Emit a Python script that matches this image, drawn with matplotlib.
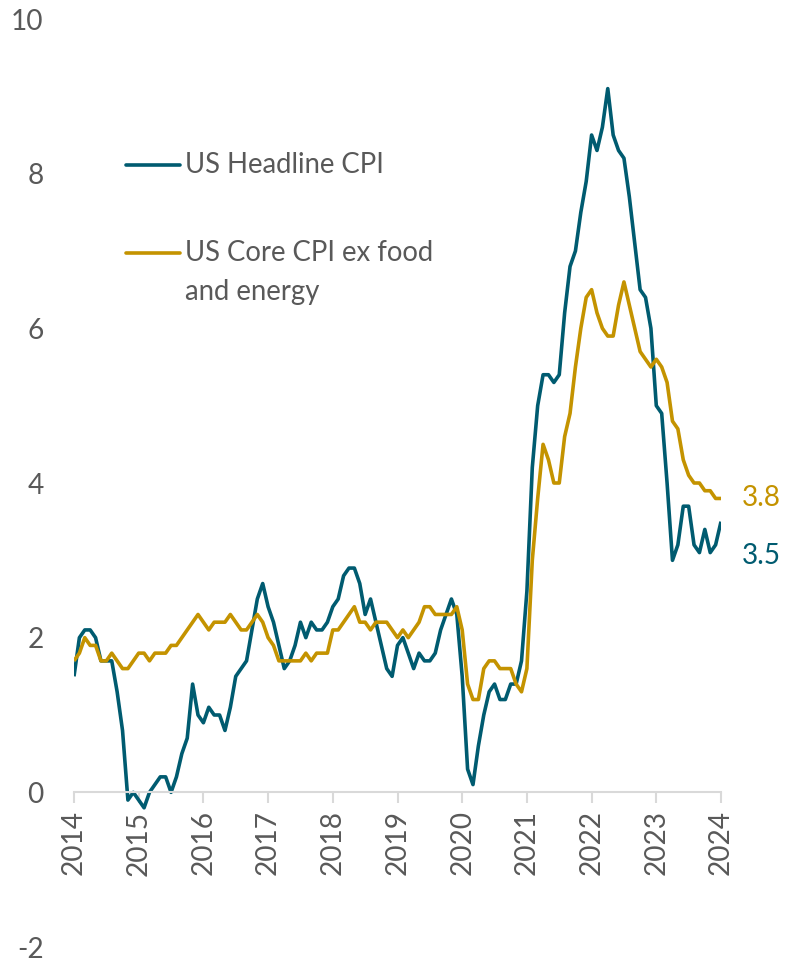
import matplotlib
matplotlib.use("Agg")
import matplotlib.pyplot as plt
from matplotlib.lines import Line2D

# Monthly YoY %, Mar 2014 - Mar 2024
headline = [1.5, 2.0, 2.1, 2.1, 2.0, 1.7, 1.7, 1.7, 1.3, 0.8,
            -0.1, 0.0, -0.1, -0.2, 0.0, 0.1, 0.2, 0.2, 0.0, 0.2, 0.5, 0.7,
            1.4, 1.0, 0.9, 1.1, 1.0, 1.0, 0.8, 1.1, 1.5, 1.6, 1.7, 2.1,
            2.5, 2.7, 2.4, 2.2, 1.9, 1.6, 1.7, 1.9, 2.2, 2.0, 2.2, 2.1,
            2.1, 2.2, 2.4, 2.5, 2.8, 2.9, 2.9, 2.7, 2.3, 2.5, 2.2, 1.9,
            1.6, 1.5, 1.9, 2.0, 1.8, 1.6, 1.8, 1.7, 1.7, 1.8, 2.1, 2.3,
            2.5, 2.3, 1.5, 0.3, 0.1, 0.6, 1.0, 1.3, 1.4, 1.2, 1.2, 1.4,
            1.4, 1.7, 2.6, 4.2, 5.0, 5.4, 5.4, 5.3, 5.4, 6.2, 6.8, 7.0,
            7.5, 7.9, 8.5, 8.3, 8.6, 9.1, 8.5, 8.3, 8.2, 7.7, 7.1, 6.5,
            6.4, 6.0, 5.0, 4.9, 4.0, 3.0, 3.2, 3.7, 3.7, 3.2, 3.1, 3.4,
            3.1, 3.2, 3.5]
core = [1.7, 1.8, 2.0, 1.9, 1.9, 1.7, 1.7, 1.8, 1.7, 1.6,
        1.6, 1.7, 1.8, 1.8, 1.7, 1.8, 1.8, 1.8, 1.9, 1.9, 2.0, 2.1,
        2.2, 2.3, 2.2, 2.1, 2.2, 2.2, 2.2, 2.3, 2.2, 2.1, 2.1, 2.2,
        2.3, 2.2, 2.0, 1.9, 1.7, 1.7, 1.7, 1.7, 1.7, 1.8, 1.7, 1.8,
        1.8, 1.8, 2.1, 2.1, 2.2, 2.3, 2.4, 2.2, 2.2, 2.1, 2.2, 2.2,
        2.2, 2.1, 2.0, 2.1, 2.0, 2.1, 2.2, 2.4, 2.4, 2.3, 2.3, 2.3,
        2.3, 2.4, 2.1, 1.4, 1.2, 1.2, 1.6, 1.7, 1.7, 1.6, 1.6, 1.6,
        1.4, 1.3, 1.6, 3.0, 3.8, 4.5, 4.3, 4.0, 4.0, 4.6, 4.9, 5.5,
        6.0, 6.4, 6.5, 6.2, 6.0, 5.9, 5.9, 6.3, 6.6, 6.3, 6.0, 5.7,
        5.6, 5.5, 5.6, 5.5, 5.3, 4.8, 4.7, 4.3, 4.1, 4.0, 4.0, 3.9,
        3.9, 3.8, 3.8]
year_labels = [str(y) for y in range(2014, 2025)]
series_names = ["US Headline CPI", "US Core CPI ex food", "and energy"]

TEAL = "#005B70"
GOLD = "#C49300"
GRAY = "#595959"
AXIS = "#D9D9D9"

plt.rcParams['font.family'] = ['Lato', 'DejaVu Sans']

W, H, DPI = 785, 959, 100
fig = plt.figure(figsize=(W / DPI, H / DPI), dpi=DPI)
ax = fig.add_axes([74 / W, 1 - 947 / H, (721 - 74) / W, (947 - 19) / H])

x = list(range(len(headline)))
ax.plot(x, headline, color=TEAL, lw=2.6, solid_joinstyle='round', solid_capstyle='butt')
ax.plot(x, core, color=GOLD, lw=2.6, solid_joinstyle='round', solid_capstyle='butt')

for s in ['left', 'right', 'top']:
    ax.spines[s].set_visible(False)
ax.spines['bottom'].set_position(('data', 0))
ax.spines['bottom'].set_color(AXIS)
ax.spines['bottom'].set_linewidth(1.5)

ax.set_xlim(0, 120)
ax.set_ylim(-2, 10)

fs = 28 * 72 / DPI
ax.set_yticks(range(-2, 11, 2))
ax.set_yticklabels([str(v) for v in range(-2, 11, 2)], fontsize=fs, color=GRAY)
ax.tick_params(axis='y', length=0, pad=22)

ax.set_xticks(range(0, 121, 12))
ax.set_xticklabels(year_labels, rotation=90, fontsize=fs, color=GRAY)
ax.tick_params(axis='x', length=8, width=1.5, color=AXIS, pad=5, direction='out')

# end labels
ax.annotate(f"{core[-1]:.1f}", xy=(x[-1], core[-1]), xytext=(21, 0), textcoords='offset pixels',
            ha='left', va='center', fontsize=fs, color=GOLD)
ax.annotate(f"{headline[-1]:.1f}", xy=(x[-1], headline[-1]), xytext=(21, -34), textcoords='offset pixels',
            ha='left', va='center', fontsize=fs, color=TEAL)

# legend (manual)
def fx(px):
    return px / W

def fy(py):
    return 1 - py / H

leg_fs = 27.5 * 72 / DPI
fig.add_artist(Line2D([fx(126), fx(180)], [fy(165), fy(165)], color=TEAL, lw=2.6,
                      transform=fig.transFigure, solid_capstyle='round'))
fig.text(fx(185), fy(165), series_names[0], fontsize=leg_fs, color=GRAY, va='center', ha='left')
fig.add_artist(Line2D([fx(126), fx(180)], [fy(253), fy(253)], color=GOLD, lw=2.6,
                      transform=fig.transFigure, solid_capstyle='round'))
fig.text(fx(185), fy(253), series_names[1], fontsize=leg_fs, color=GRAY, va='center', ha='left')
fig.text(fx(185), fy(292), series_names[2], fontsize=leg_fs, color=GRAY, va='center', ha='left')

fig.savefig("out.png", dpi=DPI)
